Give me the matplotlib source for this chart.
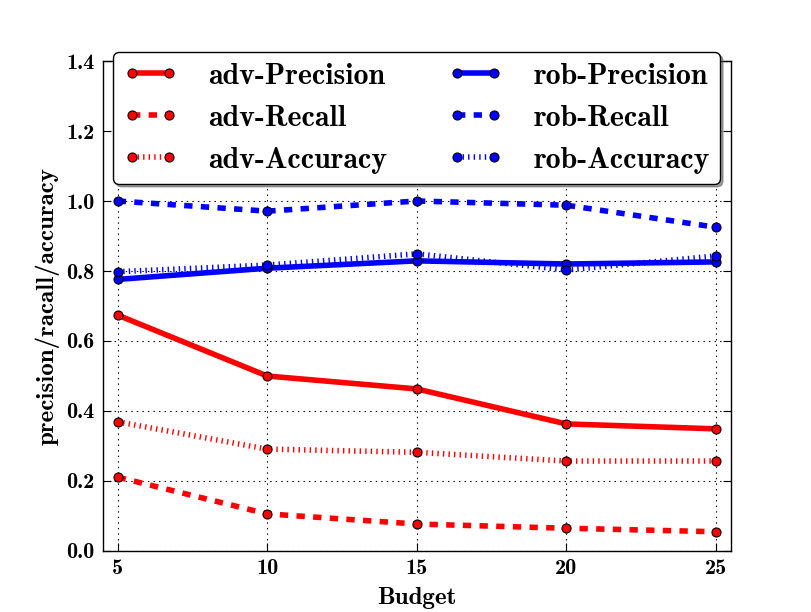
import matplotlib

matplotlib.use("Agg")
import matplotlib.pyplot as plt

plt.rcParams["font.family"] = ["cmb10", "DejaVu Serif"]
plt.rcParams["mathtext.fontset"] = "cm"
plt.rcParams["axes.unicode_minus"] = False
plt.rcParams["lines.scale_dashes"] = False
plt.rcParams["lines.dashed_pattern"] = [6, 6]
plt.rcParams["lines.dotted_pattern"] = [1, 3]

budget = [5, 10, 15, 20, 25]

adv_precision = [0.674, 0.500, 0.463, 0.363, 0.349]
adv_recall = [0.211, 0.106, 0.077, 0.065, 0.055]
adv_accuracy = [0.369, 0.291, 0.282, 0.257, 0.257]

rob_precision = [0.776, 0.808, 0.829, 0.820, 0.826]
rob_recall = [1.000, 0.971, 1.000, 0.988, 0.925]
rob_accuracy = [0.798, 0.817, 0.849, 0.803, 0.843]


def main():
    fig = plt.figure(figsize=(8.12, 6.12), dpi=100)
    ax = fig.add_axes([0.1265, 0.0997, 0.7737, 0.8006])

    style = dict(lw=4, marker="o", markersize=6.5, markeredgecolor="black",
                 markeredgewidth=0.8)
    ax.plot(budget, adv_precision, "r-", label="adv-Precision", **style)
    ax.plot(budget, adv_recall, "r--", label="adv-Recall", **style)
    ax.plot(budget, adv_accuracy, "r:", label="adv-Accuracy", **style)
    ax.plot(budget, rob_precision, "b-", label="rob-Precision", **style)
    ax.plot(budget, rob_recall, "b--", label="rob-Recall", **style)
    ax.plot(budget, rob_accuracy, "b:", label="rob-Accuracy", **style)

    ax.set_xlim(4.5, 25.5)
    ax.set_ylim(0, 1.4)
    ax.set_xticks(budget)
    ax.set_yticks([0.0, 0.2, 0.4, 0.6, 0.8, 1.0, 1.2, 1.4])
    ax.set_yticklabels(["0.0", "0.2", "0.4", "0.6", "0.8", "1.0", "1.2", "1.4"])
    ax.tick_params(direction="in", top=True, right=True, labelsize=16,
                   length=6, width=0.8, pad=6)
    ax.grid(True, color="black", linestyle=":", linewidth=0.8)
    for s in ax.spines.values():
        s.set_linewidth(1.0)

    ax.set_xlabel("Budget", fontsize=18, labelpad=6)
    ax.set_ylabel("precision/racall/accuracy", fontsize=18, labelpad=5)

    leg = ax.legend(loc="upper left", bbox_to_anchor=(0.0164, 1.018), ncol=2,
                    fontsize=21.5, borderaxespad=0, shadow=True, fancybox=True,
                    numpoints=2, handlelength=1.84, handletextpad=1.0,
                    columnspacing=2.05, labelspacing=0.5, borderpad=0.35,
                    framealpha=1)
    leg.get_frame().set_edgecolor("black")
    leg.get_frame().set_linewidth(1.0)

    fig.savefig("out.png", dpi=100)


if __name__ == "__main__":
    main()
